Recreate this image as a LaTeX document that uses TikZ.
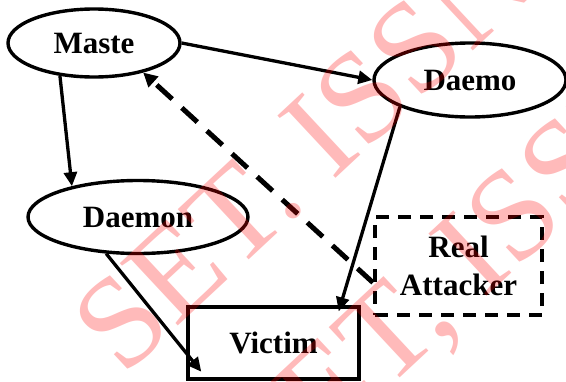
\documentclass[tikz,border=0pt]{standalone}
\usepackage{fontspec}
\setmainfont{Liberation Serif}
\usetikzlibrary{arrows.meta,shapes.geometric,calc}
\begin{document}
\begin{tikzpicture}[x=1pt,y=-1pt,
  lbl/.style={font=\fontsize{31}{38}\selectfont\bfseries, text=black},
  oval/.style={ellipse, draw, line width=3.4pt, inner sep=0pt, lbl},
  plainbox/.style={rectangle, draw, line width=3.4pt, inner sep=0pt, lbl, align=center},
  dashbox/.style={plainbox, line width=4pt, dash pattern=on 13pt off 9pt},
  link/.style={line width=3.3pt, -{Triangle[length=14pt,width=13pt]}},
  spoof/.style={line width=5pt, dash pattern=on 21pt off 13pt,
                -{Triangle[length=14pt,width=14pt]}},
  wm/.style={font=\fontsize{130}{130}\selectfont, text=red, text opacity=0.27,
             inner sep=0pt, rotate=43}
]
\useasboundingbox (0,0) rectangle (566,381);
\fill[white] (0,0) rectangle (566,381);

% hosts
\node[oval, minimum width=172pt, minimum height=68pt] (maste) at (94,43) {Maste};
\node[oval, minimum width=192pt, minimum height=74pt] (daemo) at (470,80) {Daemo};
\node[oval, minimum width=220pt, minimum height=73pt] (daemon) at (138,217) {Daemon};
\node[plainbox, minimum width=171pt, minimum height=72pt] (victim) at (273.5,343) {Victim};
\node[dashbox, minimum width=167pt, minimum height=98pt] (attacker) at (458.5,266) {Real\\Attacker};

% arrow ends that sit inside the victim box
\coordinate (vl) at ($(victim.south west)+(15,-9)$);
\coordinate (vr) at ($(victim.north east)+(-22,6)$);

% control and flood paths
\draw[link] (maste.east) -- (daemo.west);
\draw[link] (maste.224) -- (daemon.155);
\draw[link] (daemon.229) -- (vl);
\draw[link] (daemo.201) -- (vr);
\draw[spoof] (attacker.191) -- (maste.329);

% journal watermark laid over the figure
\begin{scope}
  \clip (0,0) rectangle (566,381);
  \coordinate (w1) at (309,204);
  \coordinate (w2) at (460,322);
  \node[wm, anchor=base east] at (w1) {SET.};
  \node[wm, anchor=base west] at (w1) {\kern.25em ISSN};
  \node[wm, anchor=base east] at (w2) {SET,};
  \node[wm, anchor=base west] at (w2) {\kern.25em ISSN};
\end{scope}
\end{tikzpicture}
\end{document}
